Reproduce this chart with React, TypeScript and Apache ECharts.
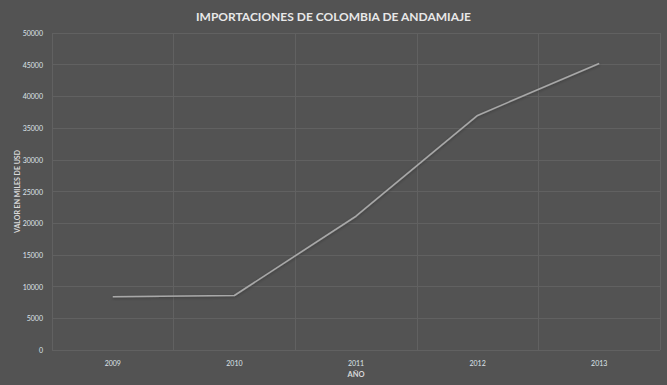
import React, { useEffect, useRef } from "react";
import * as echarts from "echarts";

const categories = ["2009", "2010", "2011", "2012", "2013"];
const values = [8400, 8600, 21100, 37000, 45200];
const yTicks = { min: 0, max: 50000, interval: 5000 };

export default function App() {
  const ref = useRef<HTMLDivElement>(null);
  useEffect(() => {
    document.body.style.margin = "0";
    const chart = echarts.init(ref.current!, null, { renderer: "svg" });
    const font = "Lato, 'Open Sans', sans-serif";
    chart.setOption({
      animation: false,
      backgroundColor: "#535353",
      title: {
        text: "IMPORTACIONES DE COLOMBIA DE ANDAMIAJE",
        left: "center",
        top: 5,
        textStyle: { color: "#e8e8e8", fontSize: 12, fontWeight: "bold", fontFamily: font },
      },
      grid: {
        left: 52,
        right: 7,
        top: 33,
        bottom: 35,
        containLabel: false,
        outerBoundsMode: "none",
      },
      xAxis: {
        type: "category",
        data: categories,
        boundaryGap: true,
        name: "AÑO",
        nameLocation: "middle",
        nameGap: 20,
        nameMoveOverlap: false,
        nameTextStyle: { color: "#d8d8d8", fontSize: 7.5, fontWeight: "bold", fontFamily: font },
        axisLine: { show: false },
        axisTick: { show: false },
        axisLabel: { color: "#dde3ea", fontSize: 7, margin: 9, fontFamily: font },
        splitLine: { show: true, lineStyle: { color: "#616161", width: 1 } },
      },
      yAxis: {
        type: "value",
        min: yTicks.min,
        max: yTicks.max,
        interval: yTicks.interval,
        name: "VALOR EN MILES DE USD",
        nameLocation: "middle",
        nameGap: 32,
        nameMoveOverlap: false,
        nameTextStyle: { color: "#d8d8d8", fontSize: 7, fontWeight: "bold", fontFamily: font },
        axisLine: { show: false },
        axisTick: { show: false },
        axisLabel: {
          color: "#dde3ea",
          fontSize: 7,
          margin: 9,
          fontFamily: font,
          formatter: (v: number) => String(v),
        },
        splitLine: { show: true, lineStyle: { color: "#616161", width: 1 } },
      },
      series: [
        {
          type: "line",
          data: values,
          symbol: "none",
          lineStyle: {
            color: "#a8a8a8",
            width: 1.6,
            shadowColor: "rgba(0,0,0,0.35)",
            shadowBlur: 3,
            shadowOffsetY: 1,
          },
        },
      ],
    });
    return () => chart.dispose();
  }, []);
  return (
    <div
      ref={ref}
      style={{ position: "fixed", left: 0, top: 0, width: 667, height: 385 }}
    />
  );
}
